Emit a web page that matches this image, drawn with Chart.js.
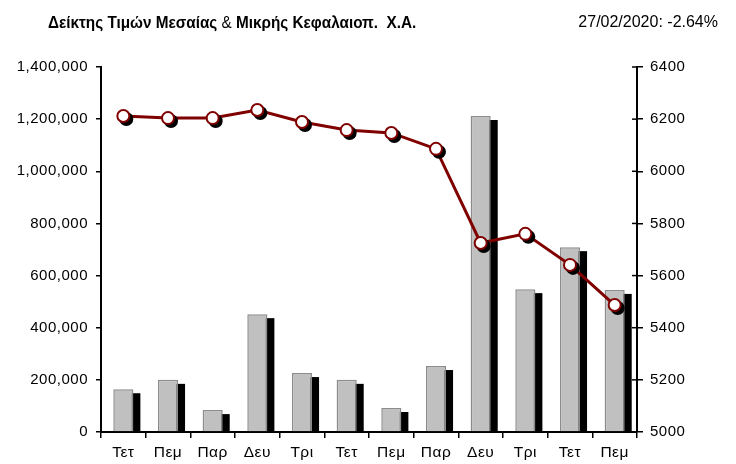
<!DOCTYPE html>
<html>
<head>
<meta charset="utf-8">
<script src="https://cdn.jsdelivr.net/npm/chart.js@4"></script>
<style>
  body { margin: 0; background: #fff; }
  #wrap { position: relative; width: 736px; height: 464px; }
  #title { position: absolute; left: 48px; top: 13px; font: bold 17px "Liberation Sans", sans-serif; color: #000; white-space: pre; transform: scaleX(0.9); transform-origin: left top; }
  #title .amp { font-weight: normal; }
  #date { position: absolute; right: 18px; top: 13px; font: 16px "Liberation Sans", sans-serif; color: #000; }
</style>
</head>
<body>
<div id="wrap">
  <canvas id="chart"></canvas>
  <div id="title">Δείκτης Τιμών Μεσαίας <span class="amp">&amp;</span> Μικρής Κεφαλαιοπ.  Χ.Α.</div>
  <div id="date">27/02/2020: -2.64%</div>
</div>
<script>
// days of the session
const labels = ['Τετ', 'Πεμ', 'Παρ', 'Δευ', 'Τρι', 'Τετ', 'Πεμ', 'Παρ', 'Δευ', 'Τρι', 'Τετ', 'Πεμ'];
// traded volume (left axis)
const volumes = [164000, 200000, 84000, 452000, 226000, 200000, 92000, 253000, 1212000, 548000, 709000, 545000];
// index close (right axis)
const indexValues = [6212, 6204, 6204, 6235, 6189, 6158, 6147, 6086, 5725, 5760, 5641, 5487];

const tickFont = { family: 'Liberation Sans', size: 15 };

// black drop shadows behind the bars and the markers
const shadowPlugin = {
    id: 'shadows',
    beforeDraw(chart) {
        chart.ctx.letterSpacing = '0.5px';
    },
    beforeDatasetDraw(chart, args) {
        const ctx = chart.ctx;
        const meta = args.meta;
        ctx.save();
        ctx.fillStyle = '#000';
        if (meta.type === 'bar') {
            meta.data.forEach(function (el) {
                const p = el.getProps(['x', 'y', 'base', 'width'], true);
                ctx.fillRect(p.x - p.width / 2 + 7, p.y + 4, p.width, p.base - p.y - 4);
            });
        }
        ctx.restore();
    },
    afterDatasetDraw(chart, args) {
        const ctx = chart.ctx;
        const meta = args.meta;
        if (meta.type !== 'line') return;
        // marker shadows, then markers again on top
        ctx.save();
        meta.data.forEach(function (el) {
            ctx.fillStyle = '#000';
            ctx.beginPath();
            ctx.arc(el.x + 3, el.y + 3, 7, 0, Math.PI * 2);
            ctx.fill();
        });
        meta.data.forEach(function (el) {
            ctx.beginPath();
            ctx.arc(el.x, el.y, 6, 0, Math.PI * 2);
            ctx.fillStyle = '#fff';
            ctx.fill();
            ctx.lineWidth = 2;
            ctx.strokeStyle = '#800000';
            ctx.stroke();
        });
        ctx.restore();
    },
    afterDraw(chart) {
        // right axis ticks cross the axis line
        const ctx = chart.ctx;
        const s = chart.scales.y1;
        ctx.save();
        ctx.strokeStyle = '#000';
        ctx.lineWidth = 1.5;
        s.ticks.forEach(function (t, i) {
            const y = s.getPixelForTick(i);
            ctx.beginPath();
            ctx.moveTo(s.left - 5, y);
            ctx.lineTo(s.left, y);
            ctx.stroke();
        });
        ctx.restore();
    }
};

const ctx = document.getElementById('chart');
new Chart(ctx, {
    type: 'bar',
    data: {
        labels: labels,
        datasets: [{
            type: 'line',
            label: 'Δείκτης',
            data: indexValues,
            yAxisID: 'y1',
            borderColor: '#800000',
            borderWidth: 3,
            pointRadius: 0,
            tension: 0,
            order: 0
        }, {
            type: 'bar',
            label: 'Όγκος',
            data: volumes,
            yAxisID: 'y',
            backgroundColor: '#c0c0c0',
            borderColor: '#8c8c8c',
            borderWidth: 1.5,
            barPercentage: 0.45,
            categoryPercentage: 1,
            order: 1
        }]
    },
    options: {
        responsive: true,
        maintainAspectRatio: false,
        animation: false,
        layout: { padding: { top: 67, left: 0, right: 0, bottom: 0 } },
        plugins: {
            legend: { display: false },
            tooltip: { enabled: false }
        },
        scales: {
            x: {
                offset: true,
                grid: { offset: true, drawOnChartArea: false, tickLength: 6, color: '#000', lineWidth: 1.5 },
                border: { color: '#000', width: 2 },
                ticks: { color: '#000', font: { family: 'Liberation Sans', size: 15.5 }, padding: 5, maxRotation: 0 },
                afterFit(scale) { scale.height = 32; }
            },
            y: {
                position: 'left',
                min: 0,
                max: 1400000,
                grid: { drawOnChartArea: false, tickLength: 5, color: '#000', lineWidth: 1.5 },
                border: { color: '#000', width: 2 },
                ticks: {
                    stepSize: 200000,
                    color: '#000',
                    font: tickFont,
                    padding: 8,
                    callback: function (v) { return v.toLocaleString('en-US'); }
                },
                afterFit(scale) { scale.width = 101; }
            },
            y1: {
                position: 'right',
                min: 5000,
                max: 6400,
                grid: { drawOnChartArea: false, tickLength: 6, color: '#000', lineWidth: 1.5 },
                border: { color: '#000', width: 2 },
                ticks: {
                    stepSize: 200,
                    color: '#000',
                    font: tickFont,
                    padding: 7,
                    callback: function (v) { return String(v); }
                },
                afterFit(scale) { scale.width = 99; }
            }
        }
    },
    plugins: [shadowPlugin]
});
</script>
</body>
</html>
